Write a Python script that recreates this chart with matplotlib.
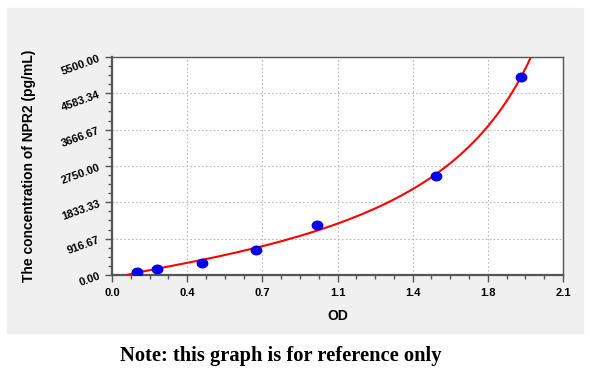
import numpy as np
import matplotlib.pyplot as plt
from matplotlib.patches import Rectangle
from matplotlib.path import Path
from matplotlib.ticker import AutoMinorLocator, FuncFormatter

# Standard points.
od = [0.116, 0.210, 0.419, 0.671, 0.955, 1.509, 1.904]
conc = [78.125, 156.25, 312.5, 625, 1250, 2500, 5000]

x_ticks = [0.0, 0.35, 0.70, 1.05, 1.40, 1.75, 2.10]
y_ticks = [0.00, 916.67, 1833.33, 2750.00, 3666.67, 4583.34, 5500.00]

# 4PL fit (concentration as a function of OD) by least squares in linear
# space: grid over the asymptotes and exponent, closed form for the scale.
x = np.array(od)[None, None, None, :]
yv = np.array(conc)
A = np.linspace(-0.2, 0.11, 32)[:, None, None, None]
D = np.linspace(1.95, 4.0, 83)[None, :, None, None]
K = np.linspace(0.4, 2.5, 85)[None, None, :, None]
U = ((x - A) / (D - x)) ** K
C = (U * yv).sum(-1) / (U * U).sum(-1)
err = ((C[..., None] * U - yv) ** 2).sum(-1)
i, j, m = np.unravel_index(np.argmin(err), err.shape)
a, d, k, c = A[i, 0, 0, 0], D[0, j, 0, 0], K[0, 0, m, 0], C[i, j, m]
xs = np.linspace(max(a, 0) + 1e-4, min(d, 2.1) - 1e-4, 600)
ys = c * ((xs - a) / (d - xs)) ** k

fig = plt.figure(figsize=(6, 3.77), dpi=100)
fig.patches.append(Rectangle((7 / 600, 1 - 333 / 377), 576 / 600, 325 / 377,
                             transform=fig.transFigure, color='#f0f0f0', zorder=-5))

ax = fig.add_axes([112 / 600, 1 - 275 / 377, 451 / 600, 218 / 377])
ax.set_facecolor('white')

ax.plot(xs, ys, color='red', lw=1.5, zorder=3)

t = np.linspace(0, 2 * np.pi, 60)
ellipse = Path(np.column_stack([np.cos(t), 0.82 * np.sin(t)]))
ax.plot(od, conc, linestyle='none', marker=ellipse, ms=7.5, color='#0000ee', zorder=4)

ax.set_xlim(0, 2.1)
ax.set_ylim(0, 5500)
ax.set_xticks(x_ticks)
ax.set_yticks(y_ticks)
ax.xaxis.set_major_formatter(FuncFormatter(lambda v, p: '%.1f' % (round(v * 10 + 1e-6) / 10)))
ax.set_yticklabels(['%.2f' % v for v in y_ticks])
ax.xaxis.set_minor_locator(AutoMinorLocator(4))
ax.yaxis.set_minor_locator(AutoMinorLocator(4))

ax.grid(True, which='major', linestyle=(0, (1.5, 2)), color='#bbbbbb', lw=0.8)
for s in ['left', 'bottom']:
    ax.spines[s].set_color('#555555')
    ax.spines[s].set_linewidth(1.6)
for s in ['top', 'right']:
    ax.spines[s].set_color('#555555')
    ax.spines[s].set_linewidth(1.0)

ax.tick_params(which='major', length=5, width=1, color='#555555', pad=4)
ax.tick_params(which='minor', length=3, width=1, color='#555555')
for lab in ax.get_xticklabels():
    lab.set_fontweight('bold')
    lab.set_fontsize(8)
    lab.set_fontfamily('Liberation Sans')
for lab in ax.get_yticklabels():
    lab.set_fontweight('bold')
    lab.set_fontsize(8)
    lab.set_fontfamily('Liberation Sans')
    lab.set_rotation(20)
    lab.set_rotation_mode('anchor')

ax.set_xlabel('OD', fontsize=10, fontweight='bold', family='Liberation Sans', labelpad=8)
ax.set_ylabel('The concentration of NPR2 (pg/mL)', fontsize=10, fontweight='bold',
              family='Liberation Sans')
ax.yaxis.set_label_coords(-0.169, 0.5)

fig.text(281 / 600, 1 - 356 / 377, 'Note: this graph is for reference only',
         ha='center', va='center', fontsize=14.8, fontweight='bold', family='Liberation Serif')

fig.savefig('out.png', dpi=100)
